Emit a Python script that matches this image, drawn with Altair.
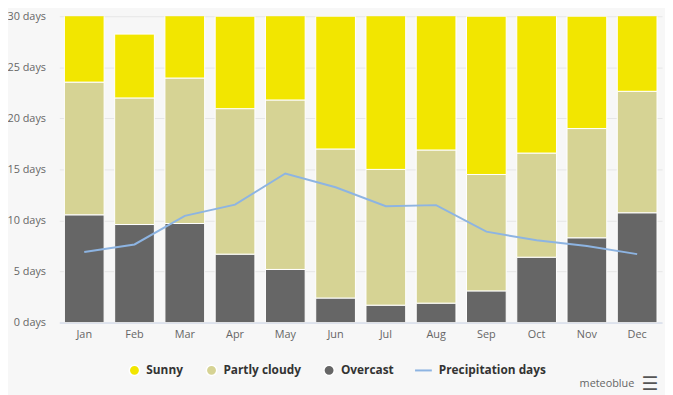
import altair as alt
import pandas as pd

months = ["Jan", "Feb", "Mar", "Apr", "May", "Jun", "Jul", "Aug", "Sep", "Oct", "Nov", "Dec"]
overcast = [10.55, 9.6, 9.7, 6.7, 5.2, 2.4, 1.7, 1.9, 3.1, 6.4, 8.3, 10.75]
partly_cloudy = [13.0, 12.4, 14.25, 14.25, 16.6, 14.6, 13.3, 15.0, 11.4, 10.2, 10.7, 11.9]
sunny = [7.45, 6.25, 7.05, 9.05, 9.2, 13.0, 16.0, 14.1, 15.5, 14.4, 11.0, 8.35]
precipitation = [6.9, 7.65, 10.45, 11.55, 14.6, 13.25, 11.4, 11.5, 8.9, 8.05, 7.5, 6.7]

bar_series = ["Sunny", "Partly cloudy", "Overcast"]
bar_colors = ["#f2e600", "#d6d394", "#666666"]
line_series = ["Precipitation days"]
line_colors = ["#8db4e2"]

rows = []
for i, m in enumerate(months):
    rows.append({"month": m, "series": "Overcast", "order": 0, "days": overcast[i]})
    rows.append({"month": m, "series": "Partly cloudy", "order": 1, "days": partly_cloudy[i]})
    rows.append({"month": m, "series": "Sunny", "order": 2, "days": sunny[i]})
bars_df = pd.DataFrame(rows)
line_df = pd.DataFrame({"month": months, "days": precipitation, "series": "Precipitation days"})

font = "Open Sans"

x_enc = alt.X("month:N", sort=months, title=None,
              scale=alt.Scale(paddingInner=0.21, paddingOuter=0.1),
              axis=alt.Axis(labelAngle=0, domainColor="#ccd6eb", ticks=False,
                            labelColor="#666666", labelFontSize=11, labelFont=font,
                            labelPadding=6))

legend_common = dict(orient="none", direction="horizontal", labelFontSize=12, labelFont=font,
                     labelFontWeight="bold", labelColor="#333333", labelOffset=6, title=None)

bars = alt.Chart(bars_df).mark_bar(stroke="white", strokeWidth=1, clip=True).encode(
    x=x_enc,
    y=alt.Y("days:Q", stack="zero", title=None,
            scale=alt.Scale(domain=[0, 30], nice=False),
            axis=alt.Axis(values=[0, 5, 10, 15, 20, 25, 30], labelExpr="datum.value + ' days'",
                          gridColor="#e6e6e6", domain=False, ticks=False,
                          labelColor="#666666", labelFontSize=11, labelFont=font,
                          labelPadding=14)),
    color=alt.Color("series:N", scale=alt.Scale(domain=bar_series, range=bar_colors),
                    legend=alt.Legend(legendX=70, legendY=352, symbolType="circle",
                                      symbolSize=110, columnPadding=19,
                                      values=bar_series, **legend_common)),
    order=alt.Order("order:Q"),
)

line = alt.Chart(line_df).mark_line(strokeWidth=2).encode(
    x=alt.X("month:N", sort=months),
    y=alt.Y("days:Q"),
    stroke=alt.Stroke("series:N", scale=alt.Scale(domain=line_series, range=line_colors),
                      legend=alt.Legend(legendX=359, legendY=349, symbolType="stroke",
                                        symbolSize=289, symbolStrokeWidth=2,
                                        **legend_common)),
)

brand = alt.Chart(pd.DataFrame({"t": ["meteoblue"]})).mark_text(
    align="right", baseline="middle", fontSize=11, font=font, color="#666666"
).encode(x=alt.value(582), y=alt.value(372), text="t:N")

menu = alt.Chart(pd.DataFrame({"t": ["☰"]})).mark_text(
    align="center", baseline="middle", fontSize=19, font="DejaVu Sans", color="#555555",
    fontWeight="bold"
).encode(x=alt.value(598), y=alt.value(372), text="t:N")

chart = alt.layer(bars, line, brand, menu).properties(
    width=610, height=310,
    background="#f7f7f7",
    autosize=alt.AutoSizeParams(type="none"),
    padding={"left": 52, "top": 6, "right": 3, "bottom": 71},
).configure_view(stroke=None)

chart.save("out.html", embed_options={"renderer": "svg", "actions": False})
